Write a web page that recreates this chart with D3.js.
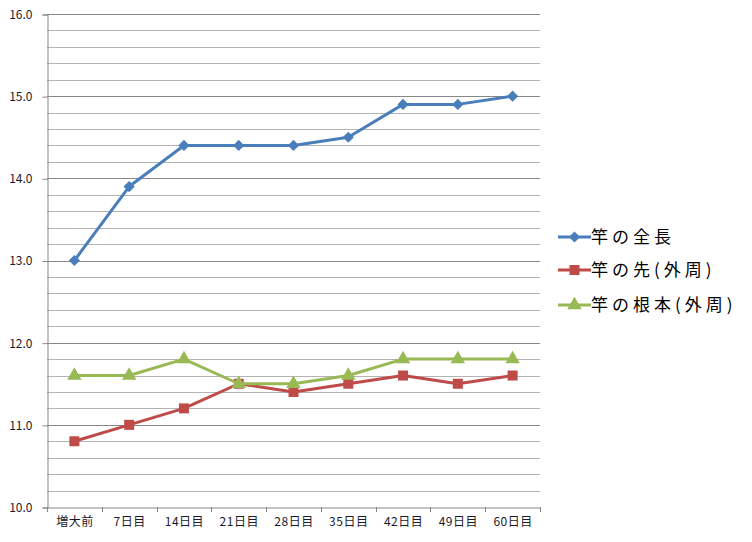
<!DOCTYPE html>
<html>
<head>
<meta charset="utf-8">
<script src="https://cdn.jsdelivr.net/npm/d3@7"></script>
<style>
  body { margin: 0; background: #fff; }
  text { font-family: "Noto Sans CJK JP", "DejaVu Sans", sans-serif; }
</style>
</head>
<body>
<div id="chart"></div>
<script>
// Categories (x axis)
const categories = ["増大前", "7日目", "14日目", "21日目", "28日目", "35日目", "42日目", "49日目", "60日目"];

// Series values
const totalLength = [13.0, 13.9, 14.4, 14.4, 14.4, 14.5, 14.9, 14.9, 15.0];
const tipGirth = [10.8, 11.0, 11.2, 11.5, 11.4, 11.5, 11.6, 11.5, 11.6];
const rootGirth = [11.6, 11.6, 11.8, 11.5, 11.5, 11.6, 11.8, 11.8, 11.8];

const seriesNames = ["竿の全長", "竿の先(外周)", "竿の根本(外周)"];
const yTicks = [10, 11, 12, 13, 14, 15, 16];

const series = [
    { name: seriesNames[0], values: totalLength, color: "#4a7ebb", marker: "diamond" },
    { name: seriesNames[1], values: tipGirth, color: "#be4b48", marker: "square" },
    { name: seriesNames[2], values: rootGirth, color: "#98b954", marker: "triangle" }
];

const width = 752, height = 542;
const plot = { left: 47, right: 540, top: 14, bottom: 507 };

const svg = d3.select("#chart").append("svg")
    .attr("width", width)
    .attr("height", height);

const x = d3.scaleBand()
    .domain(categories)
    .range([plot.left, plot.right]);

const y = d3.scaleLinear()
    .domain([10, 16])
    .range([plot.bottom, plot.top]);

// Gridlines: minor every 0.2, major every 1.0
const minor = d3.range(10, 16.001, 0.2).map(v => +v.toFixed(1));
svg.append("g")
    .selectAll("line")
    .data(minor.filter(v => Math.abs(v - Math.round(v)) > 0.01))
    .join("line")
    .attr("x1", plot.left).attr("x2", plot.right)
    .attr("y1", d => Math.round(y(d)) + 0.5).attr("y2", d => Math.round(y(d)) + 0.5)
    .attr("stroke", "#b3b3b3");

svg.append("g")
    .selectAll("line")
    .data(yTicks.slice(1))
    .join("line")
    .attr("x1", plot.left).attr("x2", plot.right)
    .attr("y1", d => Math.round(y(d)) + 0.5).attr("y2", d => Math.round(y(d)) + 0.5)
    .attr("stroke", "#878787");

// Y axis
const yAxis = svg.append("g")
    .attr("transform", `translate(${plot.left + 0.5},0.5)`)
    .call(d3.axisLeft(y).tickValues(yTicks).tickFormat(d3.format(".1f")).tickSizeOuter(0).tickSize(5).tickPadding(10));
yAxis.select(".domain").attr("stroke", "#878787");
yAxis.selectAll(".tick line").attr("stroke", "#878787");
yAxis.selectAll("text").attr("font-size", 12).attr("fill", "#1a1a2a");

// X axis
const xAxis = svg.append("g")
    .attr("transform", `translate(0.5,${plot.bottom + 0.5})`)
    .call(d3.axisBottom(x).tickSize(0).tickSizeOuter(0).tickPadding(10));
xAxis.select(".domain").attr("stroke", "#878787");
xAxis.selectAll("text").attr("font-size", 12).attr("letter-spacing", 0.5).attr("fill", "#1a1a2a");
svg.append("g")
    .selectAll("line")
    .data(d3.range(categories.length + 1))
    .join("line")
    .attr("x1", i => Math.round(plot.left + i * x.step()) + 0.5)
    .attr("x2", i => Math.round(plot.left + i * x.step()) + 0.5)
    .attr("y1", plot.bottom).attr("y2", plot.bottom + 5)
    .attr("stroke", "#878787");

// Markers
const symbolFor = {
    diamond: d3.symbol().type(d3.symbolDiamond2).size(80),
    square: d3.symbol().type(d3.symbolSquare).size(100),
    triangle: d3.symbol().type(d3.symbolTriangle).size(90)
};

const line = d3.line()
    .x((d, i) => x(categories[i]) + x.bandwidth() / 2)
    .y(d => y(d));

series.forEach(s => {
    const g = svg.append("g");
    g.append("path")
        .datum(s.values)
        .attr("d", line)
        .attr("fill", "none")
        .attr("stroke", s.color)
        .attr("stroke-width", 3)
        .attr("stroke-linejoin", "round");
    g.selectAll("path.m")
        .data(s.values)
        .join("path")
        .attr("class", "m")
        .attr("d", symbolFor[s.marker])
        .attr("transform", (d, i) => `translate(${x(categories[i]) + x.bandwidth() / 2},${y(d)})`)
        .attr("fill", s.color);
});

// Legend
const legendY = [237, 270, 305];
const legend = svg.append("g");
series.forEach((s, i) => {
    const g = legend.append("g").attr("transform", `translate(558,${legendY[i]})`);
    g.append("line")
        .attr("x1", 0).attr("x2", 33)
        .attr("stroke", s.color).attr("stroke-width", 3);
    g.append("path")
        .attr("d", symbolFor[s.marker])
        .attr("transform", "translate(16.5,0)")
        .attr("fill", s.color);
    g.append("text")
        .attr("x", 33).attr("y", 0)
        .attr("dy", "0.35em")
        .attr("font-size", 17)
        .attr("letter-spacing", 4)
        .attr("fill", "#000")
        .text(s.name);
});
</script>
</body>
</html>
